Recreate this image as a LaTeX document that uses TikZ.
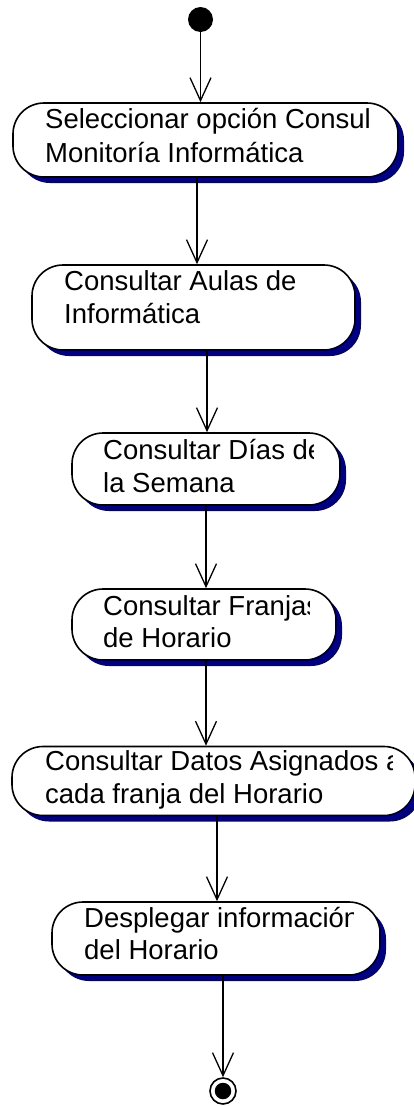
\documentclass[tikz,border=0pt]{standalone}
\usepackage{fontspec}
\setmainfont{Liberation Sans}
\usetikzlibrary{arrows.meta,shadows}
\definecolor{shadowblue}{RGB}{0,0,128}
\begin{document}
\begin{tikzpicture}[x=1pt,y=-1pt,
  act/.style={draw, line width=1.6pt, fill=white, rounded corners=31pt, inner sep=0pt,
    drop shadow={shadow xshift=6pt, shadow yshift=-6pt, shadow scale=1, fill=shadowblue, opacity=1}},
  txt/.style={anchor=base west, inner sep=0pt, font=\fontsize{27.5}{34}\selectfont},
  flow/.style={line width=1.3pt, -{Straight Barb[length=23pt,width=21pt,line width=1.3pt]}}]
\useasboundingbox (0,0) rectangle (413,1106);

% start and end
\node[circle, fill=black, minimum size=25pt, inner sep=0pt] (start) at (200.5,19.5) {};
\node[circle, draw=black, line width=1.6pt, minimum size=26pt, inner sep=0pt] (end) at (223,1091) {};
\node[circle, fill=black, minimum size=16.5pt, inner sep=0pt] (endin) at (end) {};

% activities
\node[act, minimum width=385pt, minimum height=74pt] (n1) at (205.5,140) {};
\node[act, minimum width=323pt, minimum height=85pt] (n2) at (193.5,307.5) {};
\node[act, minimum width=268pt, minimum height=72pt] (n3) at (206,469) {};
\node[act, minimum width=264pt, minimum height=71pt] (n4) at (204,624.5) {};
\node[act, minimum width=403pt, minimum height=69pt] (n5) at (213.5,781) {};
\node[act, minimum width=328pt, minimum height=73pt] (n6) at (216,938.5) {};

% texts (clipped at the right, as in the reference)
\begin{scope}
\clip (13,100) rectangle (371,180);
\node[txt] (t1a) at (45,128) {Seleccionar opción Consul};
\node[txt] (t1b) at (45,162) {Monitoría Informática};
\end{scope}
\begin{scope}
\clip (32,262) rectangle (330,352);
\node[txt] (t2a) at (64,290) {Consultar Aulas de};
\node[txt] (t2b) at (64,323) {Informática};
\end{scope}
\begin{scope}
\clip (72,430) rectangle (313,507);
\node[txt] (t3a) at (103,459) {Consultar Días de};
\node[txt] (t3b) at (103,492) {la Semana};
\end{scope}
\begin{scope}
\clip (72,586) rectangle (309,662);
\node[txt] (t4a) at (103,615) {Consultar Franjas};
\node[txt] (t4b) at (103,647) {de Horario};
\end{scope}
\begin{scope}
\clip (12,743) rectangle (392,818);
\node[txt] (t5a) at (45,770) {Consultar Datos Asignados a};
\node[txt] (t5b) at (45,803) {cada franja del Horario};
\end{scope}
\begin{scope}
\clip (52,899) rectangle (353,977);
\node[txt] (t6a) at (84,927) {Desplegar información};
\node[txt] (t6b) at (84,959) {del Horario};
\end{scope}

% connector x positions
\coordinate (c1) at (197,0);
\coordinate (c2) at (207,0);
\coordinate (c3) at (206,0);
\coordinate (c4) at (206,0);
\coordinate (c5) at (217,0);

\draw[flow] (start.south) -- (n1.north -| start.south);
\draw[flow] (n1.south -| c1) -- (n2.north -| c1);
\draw[flow] (n2.south -| c2) -- (n3.north -| c2);
\draw[flow] (n3.south -| c3) -- (n4.north -| c3);
\draw[flow] (n4.south -| c4) -- (n5.north -| c4);
\draw[flow] (n5.south -| c5) -- (n6.north -| c5);
\draw[flow] (n6.south -| end.north) -- (end.north);
\end{tikzpicture}
\end{document}
